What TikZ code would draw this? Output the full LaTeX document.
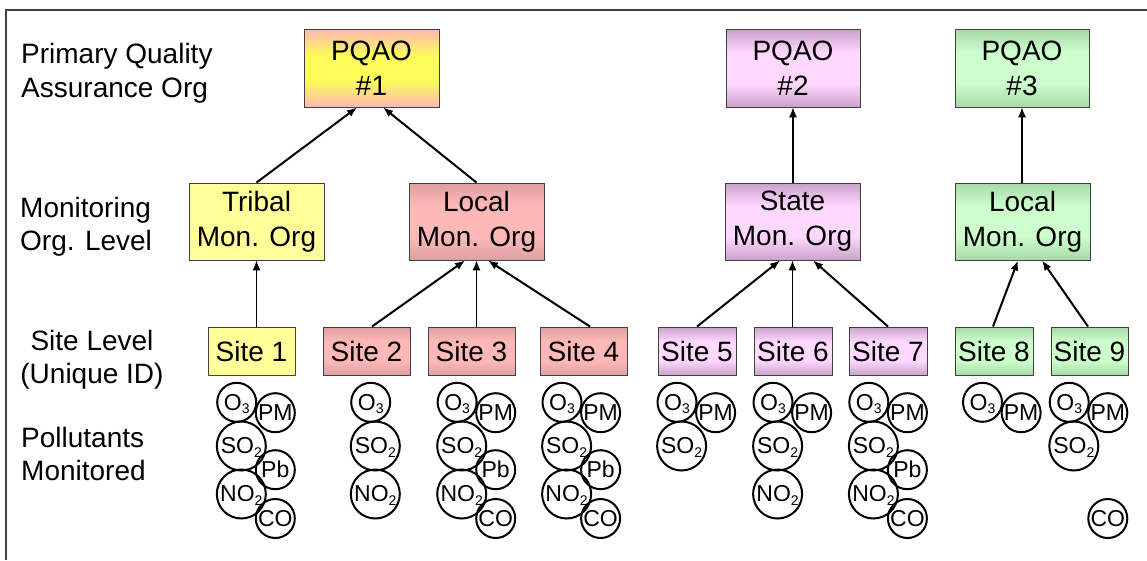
\documentclass[tikz,border=0pt]{standalone}
\usepackage{fontspec}
\setmainfont{Liberation Sans}
\usetikzlibrary{arrows.meta}

\definecolor{boxline}{HTML}{404040}
\definecolor{tribal}{HTML}{FFFF99}
\definecolor{salmon}{HTML}{FFB8B4}
\definecolor{lemon}{HTML}{FCFC5A}
\definecolor{roseedge}{HTML}{DCA0A0}
\definecolor{rosemid}{HTML}{FFB8B8}
\definecolor{plumedge}{HTML}{C8A2C8}
\definecolor{plummid}{HTML}{FFD8FF}
\definecolor{mintedge}{HTML}{A8D8A8}
\definecolor{mintmid}{HTML}{CCFFCC}

% two-tone vertical fills: darker edges, broad light middle
\pgfdeclareverticalshading{pqaofill}{100bp}{color(0bp)=(salmon); color(25bp)=(salmon);
  color(42bp)=(lemon); color(58bp)=(lemon); color(75bp)=(salmon); color(100bp)=(salmon)}
\pgfdeclareverticalshading{rosefill}{100bp}{color(0bp)=(roseedge); color(25bp)=(roseedge);
  color(40bp)=(rosemid); color(60bp)=(rosemid); color(75bp)=(roseedge); color(100bp)=(roseedge)}
\pgfdeclareverticalshading{plumfill}{100bp}{color(0bp)=(plumedge); color(25bp)=(plumedge);
  color(40bp)=(plummid); color(60bp)=(plummid); color(75bp)=(plumedge); color(100bp)=(plumedge)}
\pgfdeclareverticalshading{mintfill}{100bp}{color(0bp)=(mintedge); color(25bp)=(mintedge);
  color(40bp)=(mintmid); color(60bp)=(mintmid); color(75bp)=(mintedge); color(100bp)=(mintedge)}

% lowered subscript that does not change the size of the label box
\newcommand{\lowsub}[1]{\raisebox{-3.5pt}[0pt][0pt]{\fontsize{14}{14}\selectfont #1}}

% one column of pollutant bubbles, keyed by the x of the ozone bubble
\newcommand{\ozone}[2]{\node[pol] (#1-o3) at (#2,402.3) {O\lowsub{3}};}
\newcommand{\partm}[2]{\node[pol] (#1-pm) at (#2+38.6,412.7) {PM};}
\newcommand{\sulfur}[2]{\node[polbig] (#1-so2) at (#2+4.6,446) {SO\lowsub{2}};}
\newcommand{\leadpb}[2]{\node[pol] (#1-pb) at (#2+38.6,469.7) {Pb};}
\newcommand{\nitro}[2]{\node[polbig] (#1-no2) at (#2+4.6,494) {NO\lowsub{2}};}
\newcommand{\carbon}[2]{\node[pol] (#1-co) at (#2+38.6,518.5) {CO};}

\begin{document}
\begin{tikzpicture}[x=1pt,y=-1pt,
  txt/.style={font=\fontsize{28}{35}\selectfont},
  box/.style={txt, draw=boxline, line width=0.9pt, inner sep=0pt, align=center},
  org/.style={box, minimum width=135pt, minimum height=77pt},
  site/.style={box, minimum height=48pt},
  yel/.style={fill=tribal},
  pqaoone/.style={shading=pqaofill},
  rose/.style={shading=rosefill},
  plum/.style={shading=plumfill},
  mint/.style={shading=mintfill},
  arr/.style={line width=2pt, -{Latex[length=10pt,width=8pt]}},
  thinarr/.style={line width=1.2pt, -{Latex[length=10pt,width=8pt]}},
  lab/.style={txt, inner sep=0pt, anchor=base west},
  labc/.style={txt, inner sep=0pt, anchor=base},
  pol/.style={circle, draw, line width=2pt, inner sep=0pt, minimum size=39pt,
              font=\fontsize{23}{23}\selectfont},
  polbig/.style={pol, minimum size=49pt},
  frame/.style={draw=boxline, line width=1.5pt}
]
\useasboundingbox (0,0) rectangle (1147,560);
\fill[white] (0,0) rectangle (1147,560);
\draw[frame] (6,560) -- (6,10) -- (1147,10);

% row captions
\node[lab] (capa) at (21,63) {Primary Quality};
\node[lab] (capb) at (21,97) {Assurance Org};
\node[lab] (capc) at (20,217) {Monitoring};
\node[lab] (capd) at (20,250) {Org. Level};
\node[labc] (cape) at (92,350) {Site Level};
\node[labc] (capf) at (92,383) {(Unique ID)};
\node[lab] (capg) at (21,447) {Pollutants};
\node[lab] (caph) at (21,480) {Monitored};

% primary quality assurance organisations
\node[org, pqaoone, minimum height=78pt] (p1) at (371.5,68) {PQAO\\\#1};
\node[org, plum, minimum height=78pt, minimum width=134pt] (p2) at (793,68) {PQAO\\\#2};
\node[org, mint, minimum height=78pt, minimum width=134pt] (p3) at (1022,68) {PQAO\\\#3};

% monitoring organisations
\node[org, yel] (tm) at (256.5,221.5) {Tribal\\Mon. Org};
\node[org, rose] (lm) at (476.5,221.5) {Local\\Mon. Org};
\node[org, plum] (sm) at (792.5,221.5) {State\\Mon. Org};
\node[org, mint] (gm) at (1022.5,221.5) {Local\\Mon. Org};

% sites
\node[site, yel, minimum width=87pt] (s1) at (251.5,351) {Site 1};
\node[site, rose, minimum width=87pt] (s2) at (366.5,351) {Site 2};
\node[site, rose, minimum width=87pt] (s3) at (471.5,351) {Site 3};
\node[site, rose, minimum width=87pt] (s4) at (583.5,351) {Site 4};
\node[site, plum, minimum width=78pt] (s5) at (697,351) {Site 5};
\node[site, plum, minimum width=78pt] (s6) at (793,351) {Site 6};
\node[site, plum, minimum width=78pt] (s7) at (888,351) {Site 7};
\node[site, mint, minimum width=78pt] (s8) at (994,351) {Site 8};
\node[site, mint, minimum width=77pt] (s9) at (1089.5,351) {Site 9};

% reporting lines
\draw[arr] (tm.north) -- ([xshift=-14.5pt]p1.south);
\draw[arr] (lm.north) -- ([xshift=11.5pt]p1.south);
\draw[thinarr] (sm.north -| p2.south) -- (p2.south);
\draw[thinarr] (gm.north -| p3.south) -- (p3.south);

\draw[thinarr] (s1.north -| tm.south) -- (tm.south);
\draw[arr] ([xshift=5.5pt]s2.north) -- ([xshift=-11.5pt]lm.south);
\draw[thinarr] (s3.north -| lm.south) -- (lm.south);
\draw[arr] ([xshift=6.5pt]s4.north) -- ([xshift=11.5pt]lm.south);

\draw[arr] (s5.north) -- ([xshift=-12.5pt]sm.south);
\draw[thinarr] (s6.north -| sm.south) -- (sm.south);
\draw[arr] (s7.north) -- ([xshift=20.5pt]sm.south);

\draw[arr] ([xshift=-1pt]s8.north) -- ([xshift=-4.5pt]gm.south);
\draw[arr] ([xshift=-1.5pt]s9.north) -- ([xshift=19.5pt]gm.south);

% pollutants monitored at each site
\ozone{a}{236.7}\partm{a}{236.7}\sulfur{a}{236.7}\leadpb{a}{236.7}\nitro{a}{236.7}\carbon{a}{236.7}
\ozone{b}{370.7}\sulfur{b}{370.7}\nitro{b}{370.7}
\ozone{c}{457.1}\partm{c}{457.1}\sulfur{c}{457.1}\leadpb{c}{457.1}\nitro{c}{457.1}\carbon{c}{457.1}
\ozone{d}{562}\partm{d}{562}\sulfur{d}{562}\leadpb{d}{562}\nitro{d}{562}\carbon{d}{562}
\ozone{e}{677}\partm{e}{677}\sulfur{e}{677}
\ozone{f}{773}\partm{f}{773}\sulfur{f}{773}\nitro{f}{773}
\ozone{g}{868.8}\partm{g}{868.8}\sulfur{g}{868.8}\leadpb{g}{868.8}\nitro{g}{868.8}\carbon{g}{868.8}
\ozone{h}{982.5}\partm{h}{982.5}
\ozone{i}{1069.2}\partm{i}{1069.2}\sulfur{i}{1069.2}\carbon{i}{1069.2}
\end{tikzpicture}
\end{document}
